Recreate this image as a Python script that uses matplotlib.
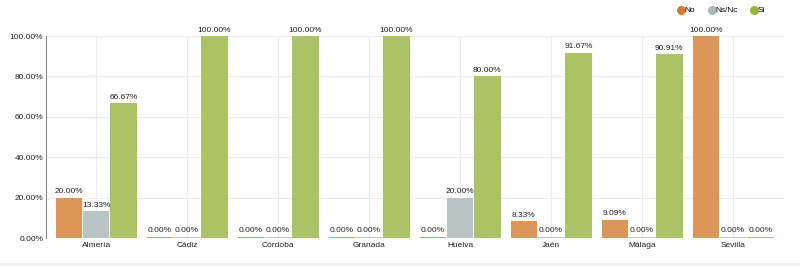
import matplotlib
matplotlib.use("Agg")
import matplotlib.pyplot as plt
import numpy as np
from matplotlib.lines import Line2D

plt.rcParams['font.family'] = ['Liberation Sans', 'DejaVu Sans']

# data
provincias = ["Almería", "Cádiz", "Córdoba", "Granada", "Huelva", "Jaén", "Málaga", "Sevilla"]
no_vals = [20.00, 0.00, 0.00, 0.00, 0.00, 8.33, 9.09, 100.00]
nsnc_vals = [13.33, 0.00, 0.00, 0.00, 20.00, 0.00, 0.00, 0.00]
si_vals = [66.67, 100.00, 100.00, 100.00, 80.00, 91.67, 90.91, 0.00]
series_names = ["No", "Ns/Nc", "Sí"]

bar_colors = ["#db9658", "#b9c5c5", "#aac465"]
dot_colors = ["#d27b2e", "#a9b8b8", "#91b83c"]

fig = plt.figure(figsize=(8, 2.67), dpi=100)
ax = fig.add_axes([0.0575, 0.1086, 0.9225, 0.7564])

x = np.arange(len(provincias))
w = 0.3
for i, vals in enumerate([no_vals, nsnc_vals, si_vals]):
    pos = x + (i - 1) * w
    heights = [v if v > 0 else 0.7 for v in vals]
    ax.bar(pos, heights, width=w * 0.97, color=bar_colors[i], linewidth=0, zorder=3)
    for p, v, h in zip(pos, vals, heights):
        ax.text(p, h + 1.2, "%.2f%%" % v, ha="center", va="bottom", fontsize=6, color="#222222", zorder=4)

ax.set_xlim(-0.55, 7.56)
ax.set_ylim(0, 100)
ax.set_yticks([0, 20, 40, 60, 80, 100])
ax.set_yticklabels(["%.2f%%" % t for t in [0, 20, 40, 60, 80, 100]])
ax.set_xticks(x)
ax.set_xticklabels(provincias)
ax.tick_params(axis="both", labelsize=6, length=0, colors="#222222")
ax.tick_params(axis="x", pad=3)
ax.tick_params(axis="y", pad=2)
ax.grid(True, color="#ebebeb", linewidth=0.8, zorder=0)
for s in ["top", "right", "bottom"]:
    ax.spines[s].set_visible(False)
ax.spines["left"].set_color("#888888")
ax.spines["left"].set_linewidth(0.8)

handles = [Line2D([0], [0], marker="o", linestyle="", markersize=5.5, markerfacecolor=c, markeredgecolor=c)
           for c in dot_colors]
fig.legend(handles, series_names, loc="upper right", bbox_to_anchor=(0.965, 1.0), ncol=3, frameon=False,
           fontsize=6, handletextpad=-0.2, handlelength=1.2, columnspacing=1.4, borderaxespad=0.4)

fig.add_artist(Line2D([0, 1], [0.01, 0.01], color="#f0f0f0", linewidth=2, transform=fig.transFigure))

fig.savefig("out.png", dpi=100)
